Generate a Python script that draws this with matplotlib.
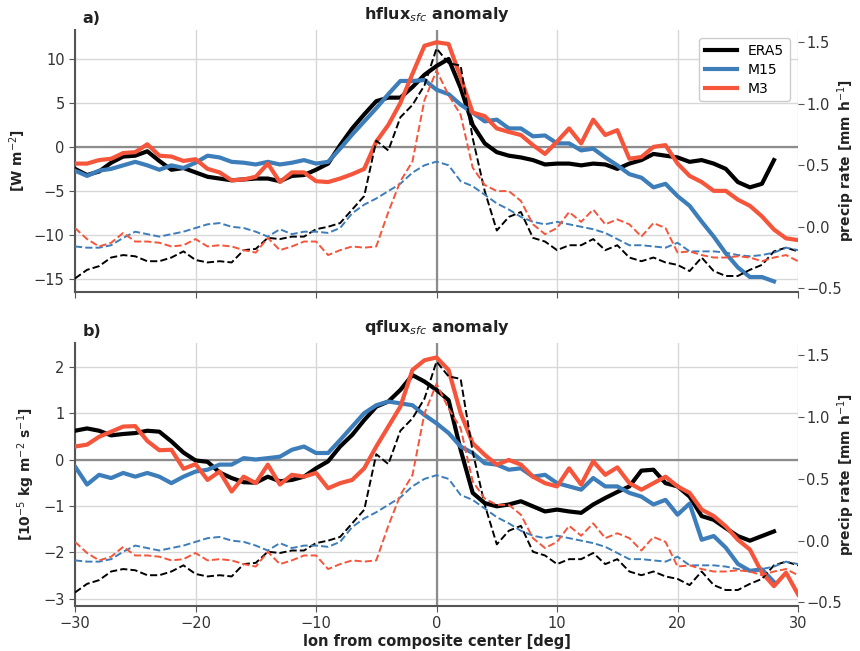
import numpy as np
import matplotlib
matplotlib.use("Agg")
import matplotlib.pyplot as plt

lon = np.arange(-30, 31, 1)
nan = np.nan

hflux_era5 = [-2.5, -3.2, -2.8, -1.8, -1.1, -1.0, -0.5, -1.6, -2.6, -2.4,
              -2.9, -3.4, -3.6, -3.8, -3.7, -3.6, -3.6, -3.9, -3.3, -3.2,
              -2.6, -1.9, 0.2, 2.1, 3.7, 5.2, 5.6, 5.6, 6.8, 8.2,
              9.2, 10.0, 6.7, 2.5, 0.4, -0.6, -1.0, -1.2, -1.5, -2.0,
              -1.9, -1.9, -2.1, -1.9, -2.0, -2.5, -1.9, -1.5, -0.8, -1.0,
              -1.2, -1.7, -1.5, -1.9, -2.5, -4.0, -4.6, -4.2, -1.5, nan, nan]
hflux_m15 = [-2.7, -3.3, -2.7, -2.5, -2.1, -1.7, -2.1, -2.6, -2.1, -2.4,
             -1.8, -1.0, -1.2, -1.7, -1.8, -2.0, -1.7, -2.0, -1.8, -1.5,
             -1.9, -1.7, -0.2, 1.4, 2.9, 4.4, 6.0, 7.5, 7.5, 7.6,
             6.5, 6.0, 4.8, 3.9, 2.9, 3.1, 2.1, 2.1, 1.2, 1.3,
             0.4, 0.4, -0.4, -0.2, -1.2, -2.1, -3.1, -3.5, -4.6, -4.2,
             -5.6, -6.7, -8.5, -10.2, -12.1, -13.7, -14.8, -14.8, -15.3, nan, nan]
hflux_m3 = [-1.9, -1.9, -1.5, -1.35, -0.7, -0.6, 0.3, -1.0, -1.1, -1.6,
            -1.4, -2.5, -2.9, -3.8, -3.7, -3.4, -1.9, -4.0, -2.9, -2.9,
            -3.9, -4.0, -3.6, -3.1, -2.5, 0.6, 2.5, 5.0, 8.3, 11.5,
            11.9, 11.7, 7.9, 3.9, 3.5, 2.1, 1.7, 1.35, 0.2, -0.8,
            0.6, 2.1, 0.4, 3.1, 1.35, 1.9, -1.35, -1.15, 0.0, 0.2,
            -1.9, -3.3, -4.0, -5.0, -5.0, -6.0, -6.7, -7.9, -9.4, -10.4, -10.6]

qflux_era5 = [0.62, 0.67, 0.62, 0.52, 0.55, 0.57, 0.62, 0.60, 0.39, 0.15,
              -0.02, -0.05, -0.28, -0.40, -0.49, -0.50, -0.37, -0.47, -0.44, -0.37,
              -0.19, -0.04, 0.28, 0.53, 0.85, 1.14, 1.25, 1.5, 1.82, 1.68,
              1.5, 1.28, 0.21, -0.72, -0.94, -1.01, -0.97, -0.90, -1.01, -1.12,
              -1.08, -1.12, -1.15, -0.97, -0.83, -0.70, -0.58, -0.24, -0.22, -0.51,
              -0.58, -0.80, -1.22, -1.30, -1.48, -1.65, -1.75, -1.65, -1.55, nan, nan]
qflux_m15 = [-0.15, -0.54, -0.33, -0.40, -0.29, -0.37, -0.29, -0.37, -0.51, -0.37,
             -0.26, -0.22, -0.11, -0.11, 0.03, 0.0, 0.03, 0.06, 0.21, 0.28,
             0.14, 0.14, 0.42, 0.71, 1.0, 1.17, 1.25, 1.21, 1.17, 0.96,
             0.78, 0.57, 0.28, 0.14, -0.08, -0.11, -0.22, -0.19, -0.37, -0.33,
             -0.51, -0.58, -0.65, -0.40, -0.58, -0.58, -0.72, -0.80, -0.97, -0.87,
             -1.19, -0.95, -1.73, -1.65, -1.90, -2.25, -2.40, -2.37, -2.64, nan, nan]
qflux_m3 = [0.28, 0.32, 0.49, 0.60, 0.71, 0.72, 0.40, 0.20, 0.21, -0.20,
            -0.10, -0.44, -0.26, -0.69, -0.37, -0.51, -0.11, -0.54, -0.33, -0.37,
            -0.29, -0.62, -0.51, -0.44, -0.19, 0.28, 0.71, 1.14, 1.93, 2.14,
            2.2, 1.93, 1.0, 0.35, 0.10, -0.11, -0.01, -0.11, -0.37, -0.51,
            -0.58, -0.19, -0.54, -0.04, -0.33, -0.17, -0.51, -0.65, -0.51, -0.37,
            -0.58, -0.72, -1.08, -1.22, -1.44, -1.73, -1.94, -2.44, -2.73, -2.44, -2.91]

precip_era5 = [-0.42, -0.35, -0.32, -0.25, -0.23, -0.24, -0.28, -0.28, -0.25, -0.20,
               -0.27, -0.29, -0.28, -0.29, -0.19, -0.18, -0.09, -0.10, -0.08, -0.08,
               -0.02, 0.00, 0.03, 0.14, 0.25, 0.70, 0.62, 0.89, 0.99, 1.15,
               1.45, 1.33, 1.31, 0.72, 0.29, -0.03, 0.08, 0.12, -0.09, -0.12,
               -0.19, -0.15, -0.15, -0.10, -0.19, -0.15, -0.25, -0.28, -0.25, -0.29,
               -0.31, -0.36, -0.25, -0.36, -0.40, -0.40, -0.35, -0.31, -0.20, -0.17, -0.20]
precip_m15 = [-0.16, -0.17, -0.17, -0.15, -0.09, -0.04, -0.06, -0.08, -0.06, -0.04,
              -0.01, 0.02, 0.03, 0.00, -0.01, -0.04, -0.08, -0.02, -0.06, -0.04,
              -0.04, -0.05, -0.01, 0.11, 0.18, 0.23, 0.29, 0.35, 0.44, 0.50,
              0.53, 0.50, 0.37, 0.33, 0.26, 0.19, 0.14, 0.08, 0.04, 0.02,
              0.04, 0.02, 0.00, -0.02, -0.05, -0.10, -0.15, -0.15, -0.16, -0.17,
              -0.13, -0.20, -0.20, -0.20, -0.21, -0.23, -0.24, -0.23, -0.21, -0.17, -0.19]
precip_m3 = [-0.01, -0.10, -0.16, -0.13, -0.05, -0.12, -0.12, -0.13, -0.16, -0.15,
             -0.10, -0.16, -0.15, -0.16, -0.19, -0.21, -0.09, -0.19, -0.16, -0.12,
             -0.12, -0.23, -0.19, -0.16, -0.17, -0.16, 0.12, 0.37, 0.53, 1.03,
             1.27, 1.07, 0.91, 0.48, 0.34, 0.29, 0.29, 0.21, 0.02, -0.06,
             -0.01, 0.12, 0.04, 0.14, 0.02, 0.06, 0.02, -0.08, 0.03, -0.01,
             -0.21, -0.20, -0.23, -0.25, -0.25, -0.24, -0.25, -0.28, -0.25, -0.23, -0.28]

names = ["ERA5", "M15", "M3"]
colors = ["#000000", "#3d7db9", "#f4553b"]

fig = plt.figure(figsize=(8.6, 6.51), dpi=100)
ax_a = fig.add_axes([0.0872, 0.5515, 0.8408, 0.4025])
ax_b = fig.add_axes([0.0872, 0.069, 0.8408, 0.404])

panels = [
    (ax_a, [hflux_era5, hflux_m15, hflux_m3], (-16.5, 13.3), [-15, -10, -5, 0, 5, 10],
     "[W m$^{-2}$]", "hflux$_{sfc}$ anomaly", "a)"),
    (ax_b, [qflux_era5, qflux_m15, qflux_m3], (-3.16, 2.51), [-3, -2, -1, 0, 1, 2],
     "[10$^{-5}$ kg m$^{-2}$ s$^{-1}$]", "qflux$_{sfc}$ anomaly", "b)"),
]
precips = [precip_era5, precip_m15, precip_m3]

for ax, series, ylim, yticks, ylabel, title, tag in panels:
    ax.set_xlim(-30, 30)
    ax.set_ylim(*ylim)
    ax.set_yticks(yticks)
    ax.set_xticks([-30, -20, -10, 0, 10, 20, 30])
    ax.grid(True, color="#d8d8d8", lw=1.0)
    ax.set_axisbelow(True)
    ax.axhline(0, color="#8c8c8c", lw=1.6, zorder=1)
    ax.axvline(0, color="#8c8c8c", lw=1.6, zorder=1)
    for sp in ["top", "right"]:
        ax.spines[sp].set_visible(False)
    for sp in ["left", "bottom"]:
        ax.spines[sp].set_color("#555555")
        ax.spines[sp].set_linewidth(1.5)
    ax.tick_params(axis="both", direction="out", length=4, color="#555555",
                   labelsize=10.5, labelcolor="#333333")
    for vals, c, n in zip(series, colors, names):
        ax.plot(lon, vals, color=c, lw=3.0, label=n, zorder=3)
    ax.set_ylabel(ylabel, fontweight="bold", fontsize=10, color="#222222")
    ax.set_title(title, fontweight="bold", fontsize=11.5, color="#222222", pad=8)
    ax.text(0.01, 1.015, tag, transform=ax.transAxes, fontweight="bold",
            fontsize=11.5, color="#222222", va="bottom")

    ax2 = ax.twinx()
    ax2.set_ylim(-0.53, 1.6)
    ax2.set_yticks([-0.5, 0.0, 0.5, 1.0, 1.5])
    for sp in ax2.spines.values():
        sp.set_visible(False)
    ax2.tick_params(axis="y", direction="out", length=4, color="#555555",
                    labelsize=10.5, labelcolor="#333333", pad=2)
    for vals, c in zip(precips, colors):
        ax2.plot(lon, vals, color=c, lw=1.4, ls="--", zorder=2)
    pos = ax.get_position()
    fig.text(846 / 860, (pos.y0 + pos.y1) / 2, "precip rate [mm h$^{-1}$]",
             rotation=90, ha="center", va="center", fontweight="bold",
             fontsize=10, color="#222222")

ax_a.tick_params(axis="x", labelbottom=False)
ax_b.set_xlabel("lon from composite center [deg]", fontweight="bold", fontsize=10.5,
                color="#222222", labelpad=2)

leg = ax_a.legend(loc="upper right", fontsize=10, frameon=True, handlelength=2.3,
                  borderaxespad=0.6, framealpha=1.0, edgecolor="#cccccc",
                  labelspacing=0.35)
leg.set_zorder(10)

fig.savefig("out.png", dpi=100)
